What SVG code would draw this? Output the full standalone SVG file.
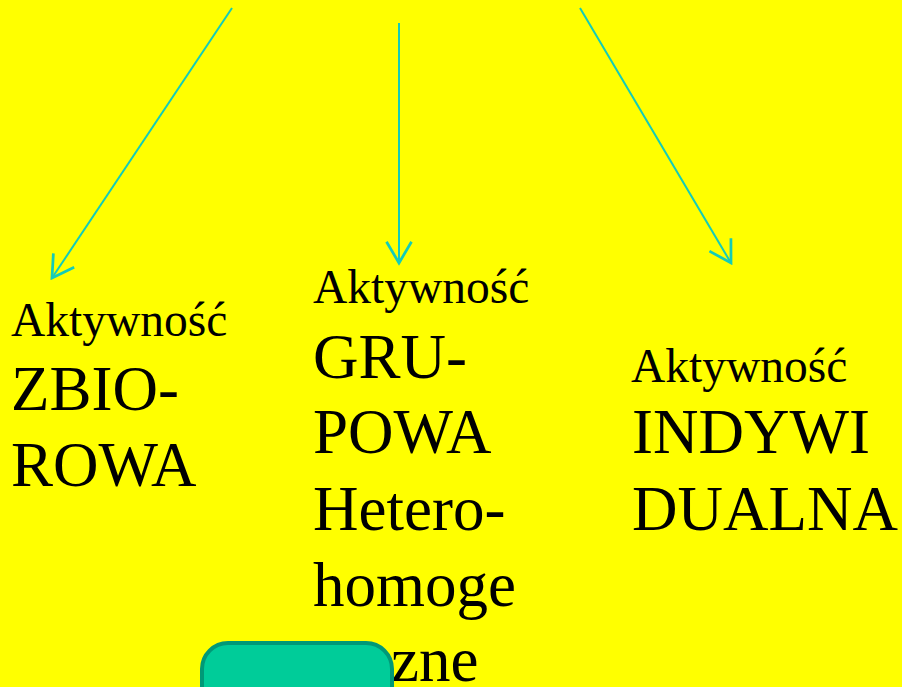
<svg xmlns="http://www.w3.org/2000/svg" width="902" height="687" viewBox="0 0 902 687">
<defs>
<style>
.t{font-family:"Liberation Serif","Times New Roman",serif;fill:#000}
.s{font-size:47.5px}
.b{font-size:63px}
.c{stroke:#14CCB8;stroke-width:2;fill:none}
</style>
<marker id="ah" markerUnits="userSpaceOnUse" markerWidth="30" markerHeight="30" viewBox="-22 -12 24 24" refX="0" refY="0" orient="auto">
<path d="M-17,-10 L0,0 L-17,10" fill="none" stroke="#14CCB8" stroke-width="2.2"/>
</marker>
</defs>
<rect width="902" height="687" fill="#FFFF00"/>
<g id="connectors">
<line class="c" x1="232" y1="8" x2="52" y2="278" marker-end="url(#ah)"/>
<line class="c" x1="399" y1="23" x2="399" y2="263" marker-end="url(#ah)"/>
<line class="c" x1="580" y1="8" x2="731" y2="263" marker-end="url(#ah)"/>
</g>
<g id="node-zbiorowa">
<text class="t s" x="11" y="336">Aktywność</text>
<text class="t b" x="11" y="410">ZBIO-</text>
<text class="t b" x="11" y="486">ROWA</text>
</g>
<g id="node-grupowa">
<text class="t s" x="313" y="303">Aktywność</text>
<text class="t b" x="313" y="378">GRU-</text>
<text class="t b" x="313" y="453">POWA</text>
<text class="t b" x="313" y="530">Hetero-</text>
<text class="t b" x="313" y="606">homoge</text>
<text class="t b" x="391" y="681">zne</text>
</g>
<g id="node-indywidualna">
<text class="t s" x="631" y="382">Aktywność</text>
<text class="t b" x="632" y="453">INDYWI</text>
<text class="t b" x="632" y="530">DUALNA</text>
</g>
<g id="node-box">
<rect x="202" y="643" width="190" height="100" rx="26" ry="26" fill="#00CC99" stroke="#009977" stroke-width="4"/>
</g>
</svg>
